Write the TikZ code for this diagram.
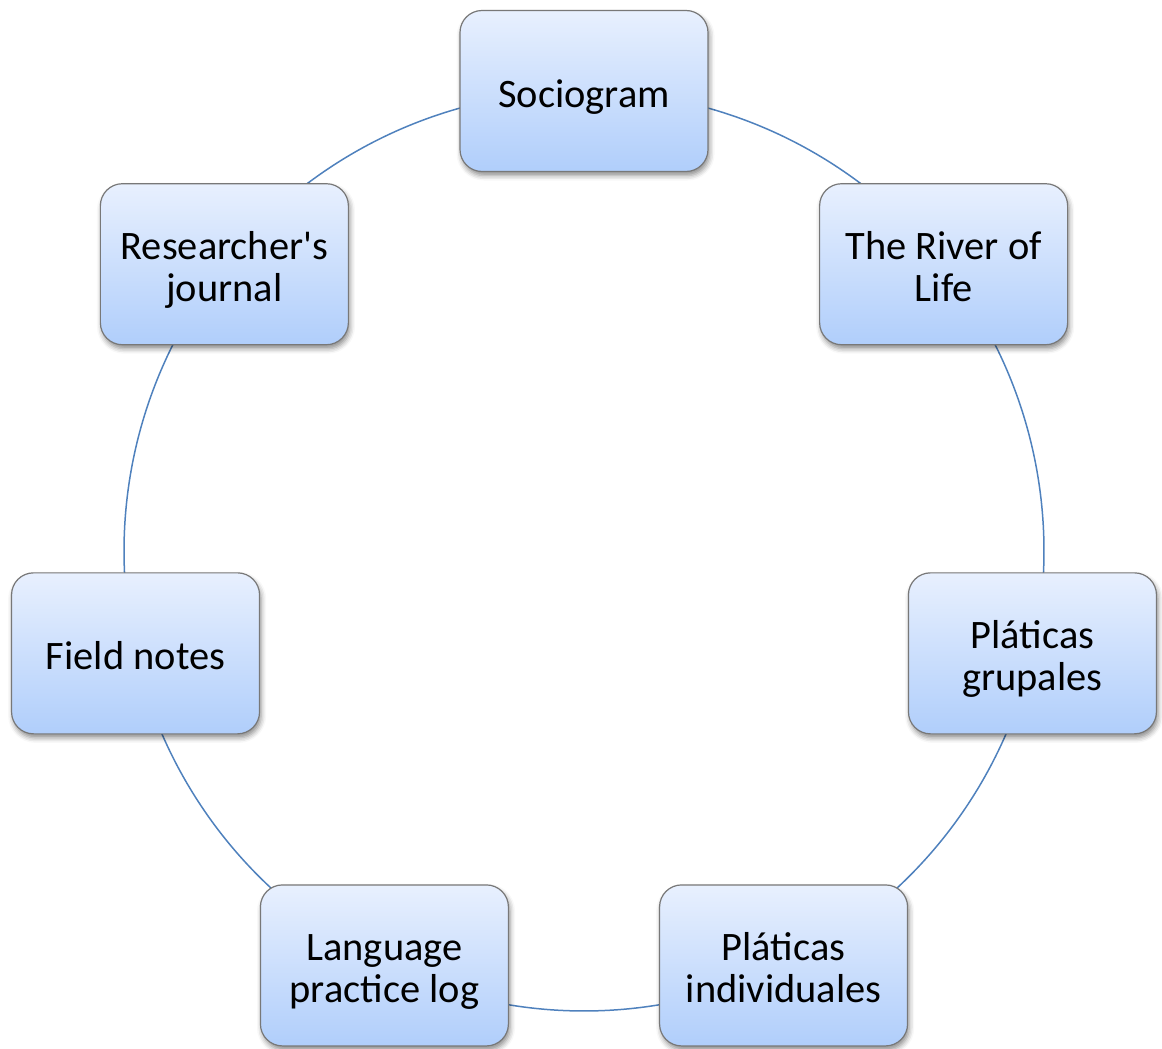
\documentclass[tikz,border=0pt]{standalone}
\usepackage{fontspec}
\newfontfamily\boxfont{Carlito}
\usetikzlibrary{backgrounds,shadows.blur}
\definecolor{boxtop}{RGB}{232,240,254}
\definecolor{boxbot}{RGB}{176,206,251}
\definecolor{boxline}{RGB}{120,120,120}
\definecolor{arcblue}{RGB}{79,129,189}
\begin{document}
\begin{tikzpicture}[x=0.5pt,y=-0.5pt,
  cyclebox/.style={rectangle, rounded corners=11pt, draw=boxline, line width=0.6pt,
    top color=boxtop, bottom color=boxbot, minimum width=124pt, minimum height=80.5pt,
    inner sep=0pt, text width=124pt, align=flush center, font=\boxfont\fontsize{20.2}{21}\selectfont, text=black,
    execute at begin node={\rule{0pt}{21pt}},
    execute at end node={\rule[-5pt]{0pt}{0pt}},
    blur shadow={shadow xshift=0.8pt, shadow yshift=-2pt, shadow blur radius=2.5pt, shadow opacity=45}},
  cyclearc/.style={draw=arcblue, line width=0.75pt}]
\useasboundingbox (0,0) rectangle (1162,1049);
\coordinate (c) at (584,551);
\node[cyclebox] (n1) at ([shift={(90:230pt)}]c) {Sociogram};
\node[cyclebox] (n2) at ([shift={(38.571:230pt)}]c) {The River of\\Life};
\node[cyclebox] (n3) at ([shift={(-12.857:230pt)}]c) {Pláticas\\grupales};
\node[cyclebox] (n4) at ([shift={(-64.286:230pt)}]c) {Pláticas\\individuales};
\node[cyclebox] (n5) at ([shift={(-115.714:230pt)}]c) {Language\\practice log};
\node[cyclebox] (n6) at ([shift={(-167.143:230pt)}]c) {Field notes};
\node[cyclebox] (n7) at ([shift={(141.429:230pt)}]c) {Researcher's\\journal};
\begin{scope}[on background layer]
  \draw[cyclearc] (n1.center) arc[start angle=90, end angle=38.571, radius=230pt];
  \draw[cyclearc] (n2.center) arc[start angle=38.571, end angle=-12.857, radius=230pt];
  \draw[cyclearc] (n3.center) arc[start angle=-12.857, end angle=-64.286, radius=230pt];
  \draw[cyclearc] (n4.center) arc[start angle=-64.286, end angle=-115.714, radius=230pt];
  \draw[cyclearc] (n5.center) arc[start angle=-115.714, end angle=-167.143, radius=230pt];
  \draw[cyclearc] (n6.center) arc[start angle=-167.143, end angle=-218.571, radius=230pt];
  \draw[cyclearc] (n7.center) arc[start angle=141.429, end angle=90, radius=230pt];
\end{scope}
\end{tikzpicture}
\end{document}
